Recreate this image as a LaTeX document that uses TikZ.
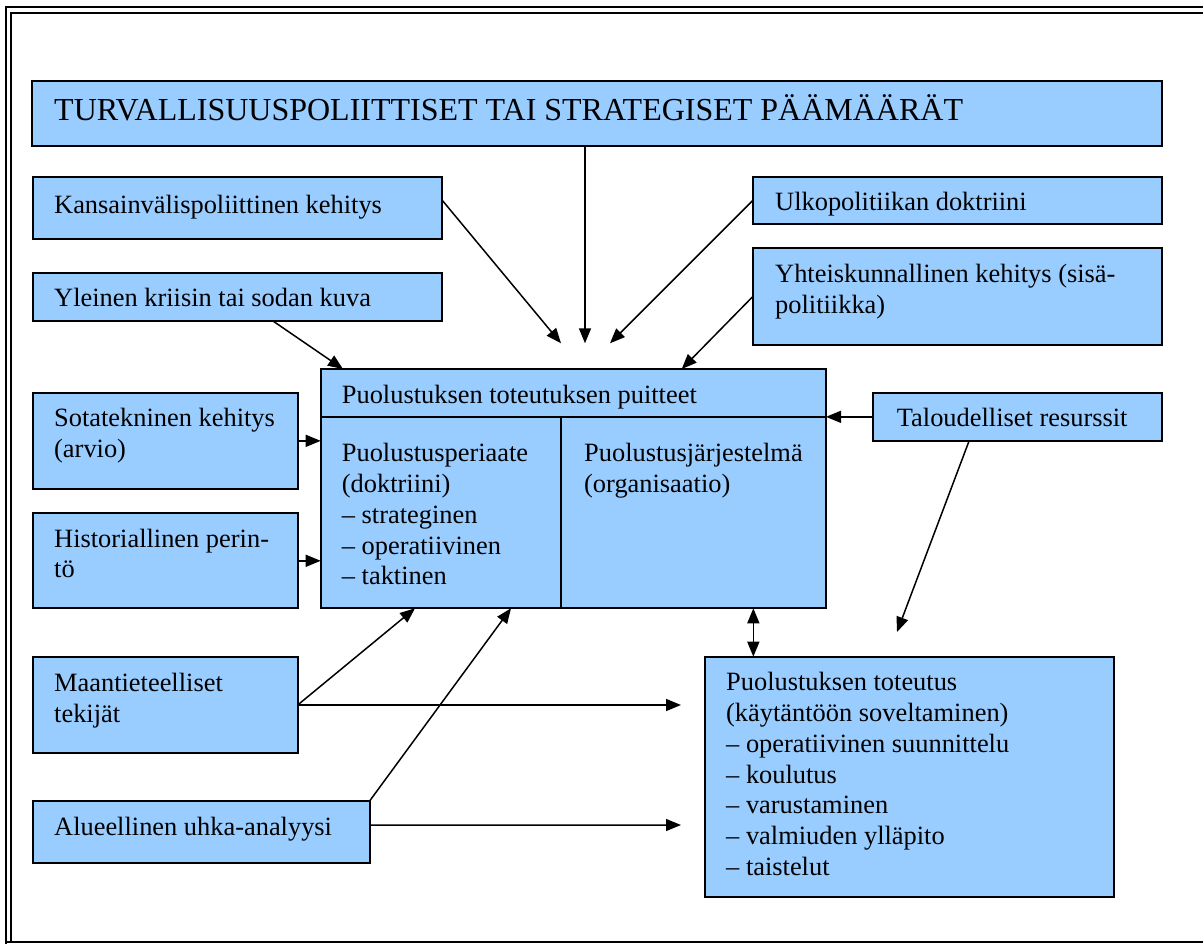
\documentclass[tikz,border=0pt]{standalone}
\usepackage{fontspec}
\setmainfont{Liberation Serif}
\usetikzlibrary{arrows.meta}
\definecolor{boxblue}{RGB}{153,204,255}
\newcommand{\ml}[1]{\begin{tabular}[t]{@{}l@{}}#1\end{tabular}}
\tikzset{
  bx/.style={draw=black, line width=1.8pt, fill=boxblue, inner sep=0pt, outer sep=0pt, anchor=north west},
  tx/.style={anchor=base west, inner sep=0pt, font=\fontsize{26.4}{30.8}\selectfont},
  ttl/.style={anchor=base west, inner sep=0pt, font=\fontsize{32}{38}\selectfont},
  ar/.style={line width=1.5pt, -{Triangle[length=15pt,width=12pt]}},
  dar/.style={line width=1.5pt, {Triangle[length=15pt,width=12pt]}-{Triangle[length=15pt,width=12pt]}},
  frameline/.style={line width=2pt},
  divline/.style={line width=1.6pt}
}
\begin{document}
\begin{tikzpicture}[x=1pt,y=-1pt]
\useasboundingbox (0,0) rectangle (1203,944);
% frame
\draw[frameline] (6.2,944) -- (6.2,7) -- (1203,7);
\draw[frameline] (11.2,942.3) -- (11.2,12.7) -- (1203,12.7);
\draw[frameline] (6.2,942.3) -- (1203,942.3);

% boxes
\node[bx, minimum width=1130pt, minimum height=65pt] (goal) at (32.3,80.7) {};
\node[bx, minimum width=409.3pt, minimum height=62.6pt] (kv) at (32.7,176.7) {};
\node[bx, minimum width=409.3pt, minimum height=48.3pt] (yl) at (32.7,272.7) {};
\node[bx, minimum width=409.5pt, minimum height=47.6pt] (ul) at (752.7,176.7) {};
\node[bx, minimum width=409.5pt, minimum height=96.7pt] (yh) at (752.7,248.3) {};
\node[bx, minimum width=505.3pt, minimum height=239.3pt] (main) at (320.7,369) {};
\node[bx, minimum width=289.3pt, minimum height=48.3pt] (ta) at (873,392.7) {};
\node[bx, minimum width=265pt, minimum height=96.3pt] (st) at (32.7,392.7) {};
\node[bx, minimum width=265pt, minimum height=95pt] (hi) at (32.7,513.3) {};
\node[bx, minimum width=265pt, minimum height=96.6pt] (ma) at (32.7,656.7) {};
\node[bx, minimum width=336.9pt, minimum height=62.3pt] (al) at (32.7,801) {};
\node[bx, minimum width=409.3pt, minimum height=240.6pt] (tot) at (704.7,656.7) {};

% dividers of main box
\draw[divline] (320.7,416.7) -- (826,416.7);
\draw[divline] (561,416.7) -- (561,608.3);

% texts
\node[ttl] (tgoal) at (54,120.7) {TURVALLISUUSPOLIITTISET TAI STRATEGISET PÄÄMÄÄRÄT};
\node[tx] (tkv) at (54,213.3) {Kansainvälispoliittinen kehitys};
\node[tx] (tyl) at (54,307) {Yleinen kriisin tai sodan kuva};
\node[tx] (tul) at (775,211) {Ulkopolitiikan doktriini};
\node[tx] (tyh) at (775,282.3) {\ml{Yhteiskunnallinen kehitys (sisä-\\politiikka)}};
\node[tx] (tmain) at (341.7,403.3) {Puolustuksen toteutuksen puitteet};
\node[tx] (tleft) at (341.7,461.7) {\ml{Puolustusperiaate\\(doktriini)\\– strateginen\\– operatiivinen\\– taktinen}};
\node[tx] (tright) at (584,461.7) {\ml{Puolustusjärjestelmä\\(organisaatio)}};
\node[tx] (tta) at (896.7,426) {Taloudelliset resurssit};
\node[tx] (tst) at (54,426.7) {\ml{Sotatekninen kehitys\\(arvio)}};
\node[tx] (thi) at (54,547) {\ml{Historiallinen perin-\\tö}};
\node[tx] (tma) at (54,691.5) {\ml{Maantieteelliset\\tekijät}};
\node[tx] (tal) at (54,835) {Alueellinen uhka-analyysi};
\node[tx] (ttot) at (726,690.7) {\ml{Puolustuksen toteutus\\(käytäntöön soveltaminen)\\– operatiivinen suunnittelu\\– koulutus\\– varustaminen\\– valmiuden ylläpito\\– taistelut}};

% free ends
\coordinate (e1) at (585,343.3);
\coordinate (e2) at (561,343.3);
\coordinate (e3) at (610,343.3);
\coordinate (e9) at (897,632);
\coordinate (h1) at (681,705);
\coordinate (h2) at (681,825);

% connectors
\draw[ar] (goal.south -| e1) -- (e1);
\draw[ar] ([yshift=8pt]kv.east) -- (e2);
\draw[ar] (ul.west) -- (e3);
\draw[ar] (yh.west) -- ([xshift=108.4pt]main.north);
\draw[ar] ([xshift=35.6pt]yl.south) -- ([xshift=22.3pt]main.north west);
\draw[ar] (st.east) -- (st.east -| main.west);
\draw[ar] (hi.east) -- (hi.east -| main.west);
\draw[ar] (ta.west) -- (ta.west -| main.east);
\draw[ar] ([xshift=-48.6pt]ta.south) -- (e9);
\coordinate (d1) at ([xshift=180pt]main.south);
\draw[dar] (d1) -- (d1 |- tot.north);
\draw[ar] (ma.east) -- ([xshift=94.3pt]main.south west);
\draw[ar] (ma.east) -- (h1);
\draw[ar] (al.north east) -- ([xshift=190.3pt]main.south west);
\draw[ar] ([yshift=7pt]al.east) -- (h2);
\end{tikzpicture}
\end{document}
